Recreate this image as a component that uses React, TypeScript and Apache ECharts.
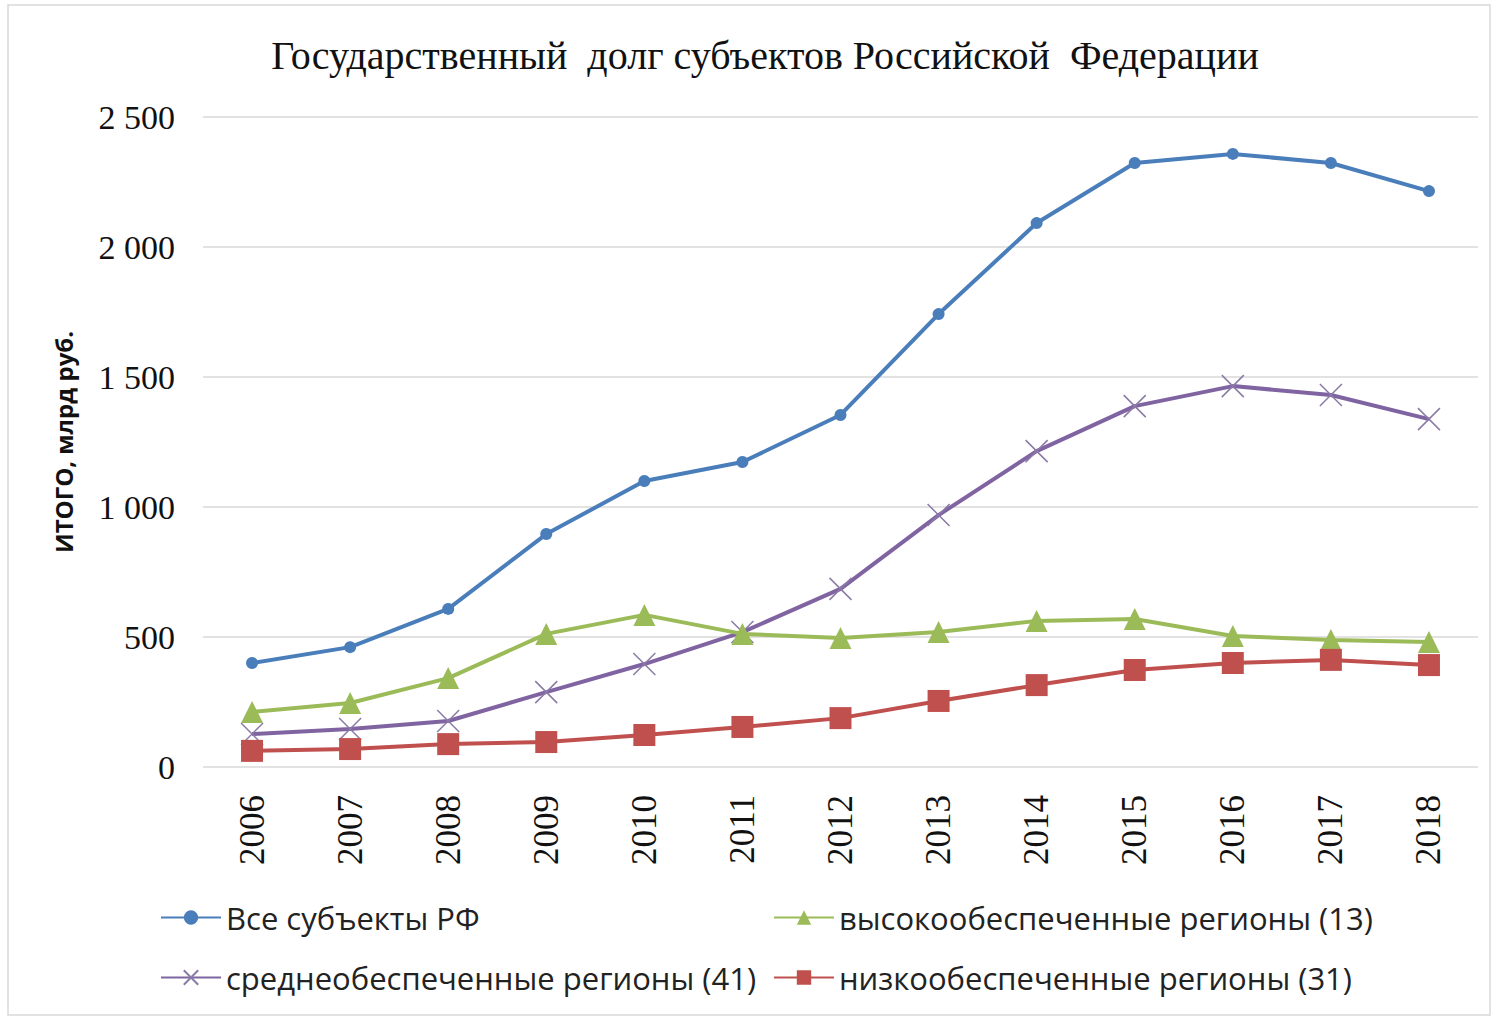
import React, { useEffect, useRef } from "react";
import * as echarts from "echarts";

const years = ["2006","2007","2008","2009","2010","2011","2012","2013","2014","2015","2016","2017","2018"];
const allRegions = [400, 461, 608, 896, 1100, 1173, 1354, 1742, 2092, 2323, 2358, 2323, 2215];
const highRegions = [212, 246, 342, 512, 585, 512, 496, 519, 562, 569, 504, 488, 481];
const midRegions = [127, 146, 177, 288, 396, 519, 685, 969, 1215, 1388, 1465, 1431, 1338];
const lowRegions = [62, 69, 88, 96, 123, 154, 188, 254, 315, 373, 400, 412, 392];
const seriesNames = [
  "Все субъекты РФ",
  "высокообеспеченные регионы (13)",
  "среднеобеспеченные регионы (41)",
  "низкообеспеченные регионы (31)",
];
const titleText = "Государственный  долг субъектов Российской  Федерации";
const yAxisName = "ИТОГО, млрд руб.";

const X_PATH = "path://M0,0L10,10M10,0L0,10";

export default function App() {
  const ref = useRef<HTMLDivElement>(null);
  useEffect(() => {
    document.body.style.margin = "0";
    const chart = echarts.init(ref.current!, null, { renderer: "svg" });
    const legendFont = { fontFamily: "Open Sans", fontSize: 31, color: "#222" };
    const mkLegend = (name: string, left: number, top: number) => ({
      data: [name],
      left,
      top,
      itemWidth: 60,
      itemHeight: 18,
      textStyle: legendFont,
      itemGap: 0,
      selectedMode: false,
    });
    chart.setOption({
      animation: false,
      backgroundColor: "#fff",
      title: {
        text: titleText,
        left: 760,
        textAlign: "center",
        top: 30,
        textStyle: { fontFamily: "Liberation Serif", fontSize: 40, fontWeight: "normal", color: "#111" },
      },
      graphic: [
        {
          type: "rect",
          shape: { x: 8, y: 5, width: 1482, height: 1010 },
          style: { fill: "none", stroke: "#d9d9d9", lineWidth: 1.5 },
        },
      ],
      legend: [
        mkLegend(seriesNames[0], 155, 897),
        mkLegend(seriesNames[1], 768, 897),
        mkLegend(seriesNames[2], 155, 957),
        mkLegend(seriesNames[3], 768, 957),
      ],
      grid: { left: 203, right: 15, top: 117, bottom: 1018 - 767, containLabel: false },
      xAxis: {
        type: "category",
        data: years,
        boundaryGap: true,
        axisLine: { show: false },
        axisTick: { show: false },
        axisLabel: {
          rotate: 90,
          margin: 28,
          fontFamily: "Liberation Serif",
          fontSize: 35,
          color: "#111",
        },
      },
      yAxis: {
        type: "value",
        min: 0,
        max: 2500,
        interval: 500,
        name: yAxisName,
        nameLocation: "middle",
        nameGap: 128,
        nameTextStyle: { fontFamily: "Open Sans", fontWeight: "bold", fontSize: 24, color: "#111" },
        axisLine: { show: false },
        axisTick: { show: false },
        splitLine: { lineStyle: { color: "#d9d9d9", width: 1.5 } },
        axisLabel: {
          margin: 28,
          fontFamily: "Liberation Serif",
          fontSize: 34,
          color: "#111",
          formatter: (v: number) => String(v).replace(/\B(?=(\d{3})+(?!\d))/g, " "),
        },
      },
      series: [
        {
          name: seriesNames[0],
          type: "line",
          data: allRegions,
          symbol: "circle",
          symbolSize: 12,
          lineStyle: { color: "#4a7ebb", width: 4 },
          itemStyle: { color: "#4a7ebb" },
          z: 4,
        },
        {
          name: seriesNames[1],
          type: "line",
          data: highRegions,
          symbol: "triangle",
          symbolSize: 22,
          lineStyle: { color: "#9bbb59", width: 4 },
          itemStyle: { color: "#9bbb59" },
          z: 3,
        },
        {
          name: seriesNames[2],
          type: "line",
          data: midRegions,
          symbol: X_PATH,
          symbolSize: 22,
          lineStyle: { color: "#8064a2", width: 4 },
          itemStyle: { color: "none", borderColor: "#8a7aa6", borderWidth: 1.5 },
          z: 2,
        },
        {
          name: seriesNames[3],
          type: "line",
          data: lowRegions,
          symbol: "rect",
          symbolSize: 22,
          lineStyle: { color: "#c0504d", width: 4 },
          itemStyle: { color: "#c0504d" },
          z: 5,
        },
      ],
    });
    return () => chart.dispose();
  }, []);
  return <div ref={ref} style={{ width: 1493, height: 1018 }} />;
}
